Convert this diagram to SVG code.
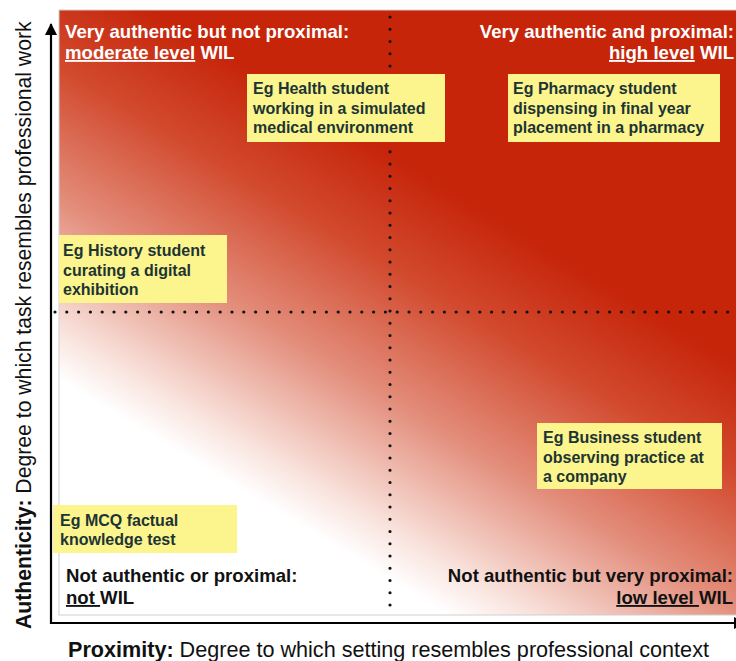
<svg xmlns="http://www.w3.org/2000/svg" width="736" height="661" viewBox="0 0 736 661">
  <defs>
    <linearGradient id="heat" gradientUnits="userSpaceOnUse" x1="49" y1="396" x2="247" y2="68">
      <stop offset="0" stop-color="#ffffff"/>
      <stop offset="0.05" stop-color="#ffffff"/>
      <stop offset="0.16" stop-color="#f9e4de"/>
      <stop offset="0.45" stop-color="#e38e7c"/>
      <stop offset="0.75" stop-color="#d24a2e"/>
      <stop offset="1" stop-color="#c6250a"/>
    </linearGradient>
    <marker id="arrow" viewBox="0 0 12 12" refX="11" refY="6" markerWidth="12" markerHeight="12" markerUnits="userSpaceOnUse" orient="auto">
      <path d="M0,0 L12,6 L0,12 Z" fill="#000"/>
    </marker>
  </defs>
  <style>
    text { font-family: "Liberation Sans", Arial, Helvetica, sans-serif; }
    .hd { font-size: 18.6px; font-weight: bold; fill: #ffffff; }
    .hdk { font-size: 18.6px; font-weight: bold; fill: #111111; }
    .u { text-decoration: underline; }
    .box { fill: #fcf48c; }
    .bt { font-size: 16px; font-weight: bold; fill: #1d3434; }
    .axis { stroke: #000; stroke-width: 2.2; fill: none; }
    .dots { stroke: #111; stroke-width: 3.2; stroke-linecap: round; fill: none; }
    .lab { font-size: 21.6px; fill: #111; }
  </style>

  <rect width="736" height="661" fill="#ffffff"/>

  <g id="plot">
    <rect x="59" y="10" width="680" height="605" fill="url(#heat)" stroke="#cfcfcf" stroke-width="1"/>
  </g>

  <g id="connectors">
    <line class="dots" x1="55" y1="312" x2="736" y2="312" stroke-dasharray="0 11.8"/>
    <line class="dots" x1="390" y1="17" x2="390" y2="606" stroke-dasharray="0 12.25"/>
    <line class="axis" x1="51" y1="624" x2="51" y2="24" marker-end="url(#arrow)"/>
    <line class="axis" x1="50" y1="623" x2="745" y2="623" marker-end="url(#arrow)"/>
  </g>

  <g id="q-top-left">
    <text class="hd" x="65" y="38">Very authentic but not proximal:</text>
    <text class="hd" x="65" y="59"><tspan class="u">moderate level</tspan> WIL</text>
  </g>
  <g id="q-top-right">
    <text class="hd" x="734" y="38" text-anchor="end">Very authentic and proximal:</text>
    <text class="hd" x="734" y="59" text-anchor="end"><tspan class="u">high level</tspan> WIL</text>
  </g>
  <g id="q-bottom-left">
    <text class="hdk" x="66" y="582">Not authentic or proximal:</text>
    <text class="hdk" x="66" y="604"><tspan class="u">not </tspan>WIL</text>
  </g>
  <g id="q-bottom-right">
    <text class="hdk" x="733" y="582" text-anchor="end">Not authentic but very proximal:</text>
    <text class="hdk" x="733" y="604" text-anchor="end"><tspan class="u">low level </tspan>WIL</text>
  </g>

  <g id="box-health">
    <rect class="box" x="247" y="74" width="198" height="68"/>
    <text class="bt" x="253" y="94">Eg Health student</text>
    <text class="bt" x="253" y="113.5">working in a simulated</text>
    <text class="bt" x="253" y="133">medical environment</text>
  </g>
  <g id="box-pharmacy">
    <rect class="box" x="508" y="74" width="212" height="68"/>
    <text class="bt" x="513" y="94">Eg Pharmacy student</text>
    <text class="bt" x="513" y="113.5">dispensing in final year</text>
    <text class="bt" x="513" y="133">placement in a pharmacy</text>
  </g>
  <g id="box-history">
    <rect class="box" x="59" y="235" width="168" height="68"/>
    <text class="bt" x="63" y="256">Eg History student</text>
    <text class="bt" x="63" y="275.5">curating a digital</text>
    <text class="bt" x="63" y="295">exhibition</text>
  </g>
  <g id="box-business">
    <rect class="box" x="537" y="423" width="185" height="66"/>
    <text class="bt" x="543" y="443">Eg Business student</text>
    <text class="bt" x="543" y="462.5">observing practice at</text>
    <text class="bt" x="543" y="482">a company</text>
  </g>
  <g id="box-mcq">
    <rect class="box" x="53" y="505" width="184" height="48"/>
    <text class="bt" x="60" y="526">Eg MCQ factual</text>
    <text class="bt" x="60" y="545">knowledge test</text>
  </g>

  <g id="label-x">
    <text class="lab" x="68" y="657"><tspan font-weight="bold">Proximity:</tspan> Degree to which setting resembles professional context</text>
  </g>
  <g id="label-y">
    <text class="lab" style="font-size:21.2px" transform="translate(31,629) rotate(-90)"><tspan font-weight="bold">Authenticity:</tspan> Degree to which task resembles professional work</text>
  </g>
</svg>
